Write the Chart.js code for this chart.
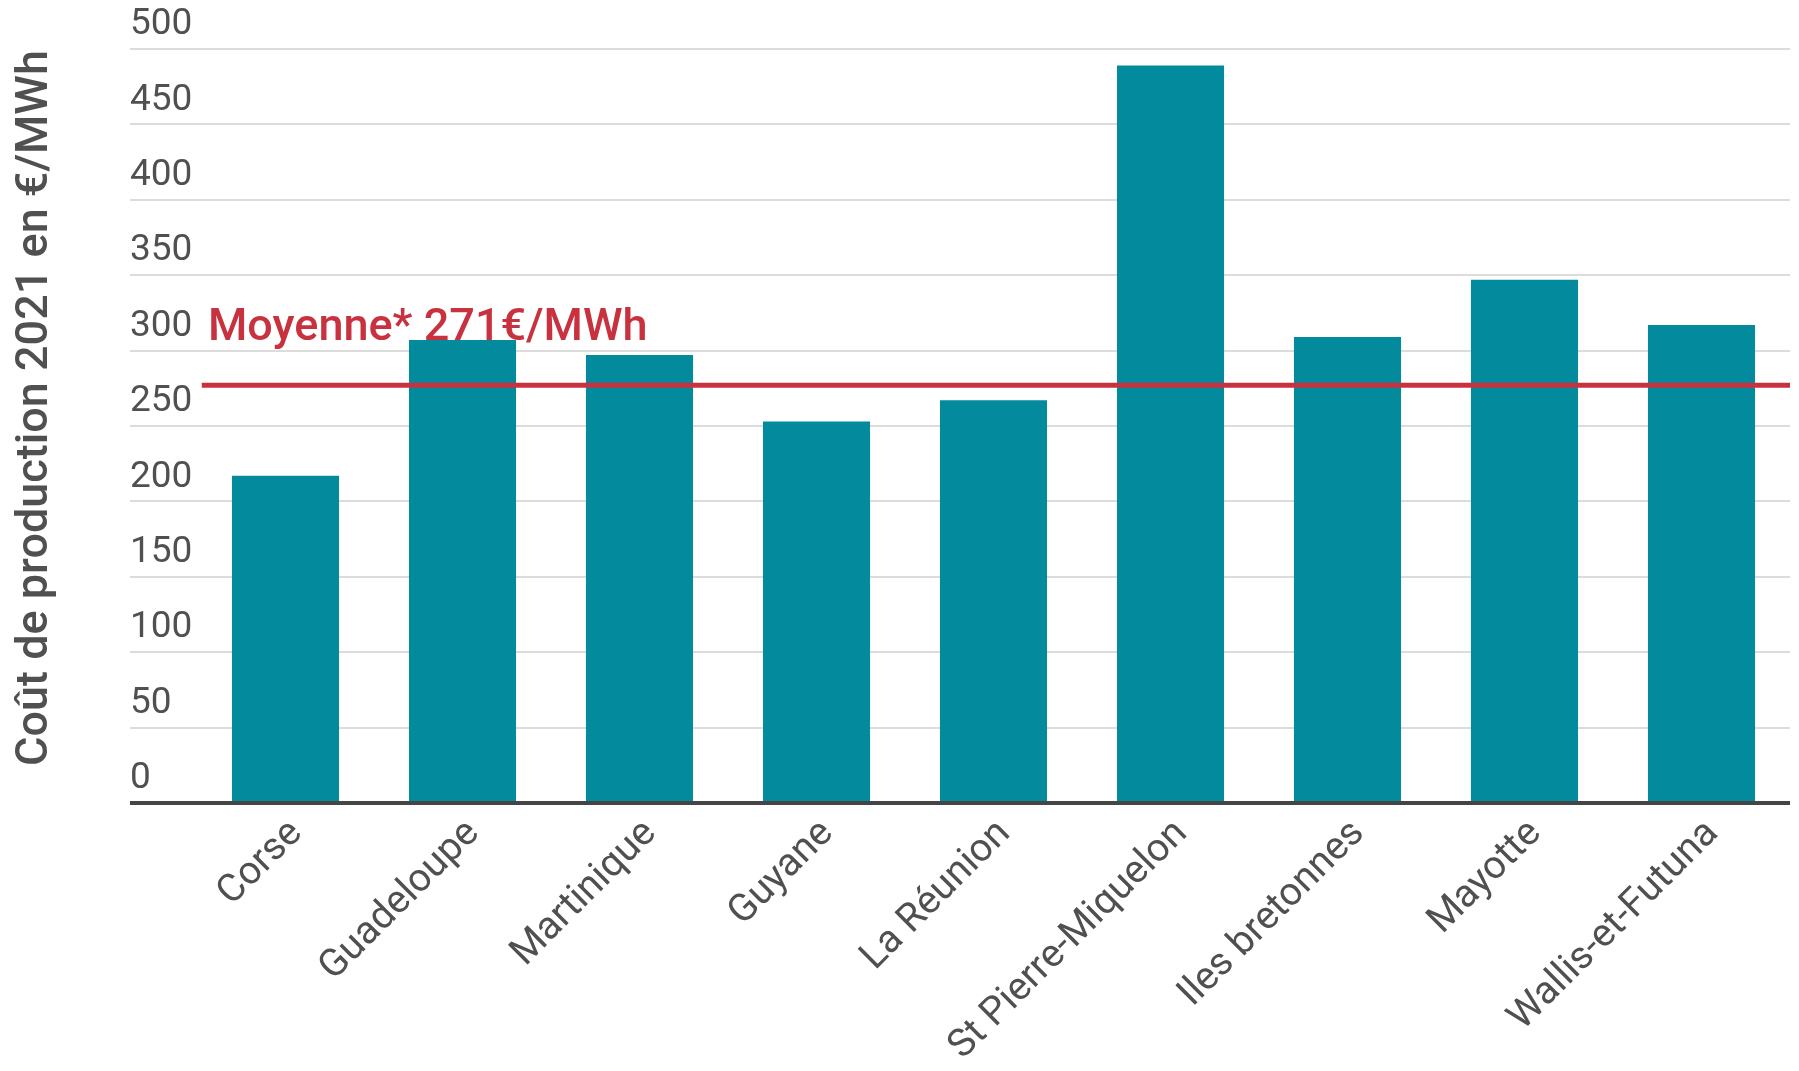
<!DOCTYPE html>
<html lang="fr">
<head>
<meta charset="utf-8">
<title>Coût de production 2021 en €/MWh</title>
<script src="https://cdn.jsdelivr.net/npm/chart.js@4"></script>
<style>
  html, body { margin: 0; padding: 0; background: #fff; }
  #wrap { position: relative; width: 1799px; height: 1071px; }
</style>
</head>
<body>
<div id="wrap"><canvas id="coutChart"></canvas></div>
<script>
// données
const categories = ['Corse', 'Guadeloupe', 'Martinique', 'Guyane', 'La Réunion',
    'St Pierre-Miquelon', 'Iles bretonnes', 'Mayotte', 'Wallis-et-Futuna'];
const costs = [217, 307, 297, 253, 267, 489, 309, 347, 317];
const yTicks = [0, 50, 100, 150, 200, 250, 300, 350, 400, 450, 500];
const averageLine = [277, 277];
const averageLabel = 'Moyenne* 271€/MWh';
const yTitle = 'Coût de production 2021 en €/MWh';

const TEAL = '#038a9c';
const RED = '#c8323f';
const GREY = '#505050';

// textes : titre vertical + libellé de la moyenne
const textPlugin = {
    id: 'chartTexts',
    afterDatasetsDraw(chart) {
        const { ctx, chartArea, scales } = chart;
        const y = scales.y.getPixelForValue(averageLine[0]);
        ctx.save();
        ctx.font = '500 45px Roboto';
        ctx.fillStyle = RED;
        ctx.textBaseline = 'alphabetic';
        ctx.textAlign = 'left';
        ctx.fillText(averageLabel, chartArea.left + 11, y - 45);

        // titre de l'axe y, un peu au-dessus du centre
        ctx.translate(36, (chartArea.top + chartArea.bottom) / 2 - 18);
        ctx.rotate(-Math.PI / 2);
        ctx.fillStyle = GREY;
        ctx.textAlign = 'center';
        ctx.textBaseline = 'middle';
        ctx.fillText(yTitle, 0, 0);
        ctx.restore();
    }
};

new Chart(document.getElementById('coutChart'), {
    type: 'bar',
    data: {
        labels: categories,
        datasets: [
            {
                type: 'bar',
                data: costs,
                backgroundColor: TEAL,
                categoryPercentage: 1,
                barPercentage: 0.605,
                grouped: false,
                order: 2
            },
            {
                type: 'line',
                xAxisID: 'x2',
                data: averageLine.map((v, i) => ({ x: i, y: v })),
                borderColor: RED,
                borderWidth: 5,
                pointRadius: 0,
                order: 1
            }
        ]
    },
    options: {
        responsive: true,
        maintainAspectRatio: false,
        animation: false,
        layout: { padding: { top: 49, right: 9, bottom: 0, left: 0 } },
        plugins: {
            legend: { display: false },
            tooltip: { enabled: false }
        },
        scales: {
            x: {
                grid: { display: false },
                border: { display: false },
                ticks: {
                    color: GREY,
                    font: { family: 'Roboto', size: 39 },
                    minRotation: 45,
                    maxRotation: 45,
                    padding: 0,
                    labelOffset: 11,
                    autoSkip: false
                },
                afterFit: (s) => { s.height = 268; }
            },
            x2: {
                type: 'linear',
                display: false,
                offset: false,
                min: -0.003,
                max: 1
            },
            y: {
                min: 0,
                max: 500,
                afterBuildTicks: (s) => { s.ticks = yTicks.map(v => ({ value: v })); },
                border: { display: false },
                grid: {
                    color: (c) => (c.tick && c.tick.value === 0 ? '#454545' : '#dcdcdc'),
                    lineWidth: (c) => (c.tick && c.tick.value === 0 ? 4 : 2),
                    tickLength: 67,
                    drawTicks: true
                },
                ticks: {
                    color: GREY,
                    font: { family: 'Roboto', size: 37 },
                    mirror: true,
                    padding: -67,
                    labelOffset: -24
                },
                afterFit: (s) => { s.width = 197; }
            }
        }
    },
    plugins: [textPlugin]
});
</script>
</body>
</html>
